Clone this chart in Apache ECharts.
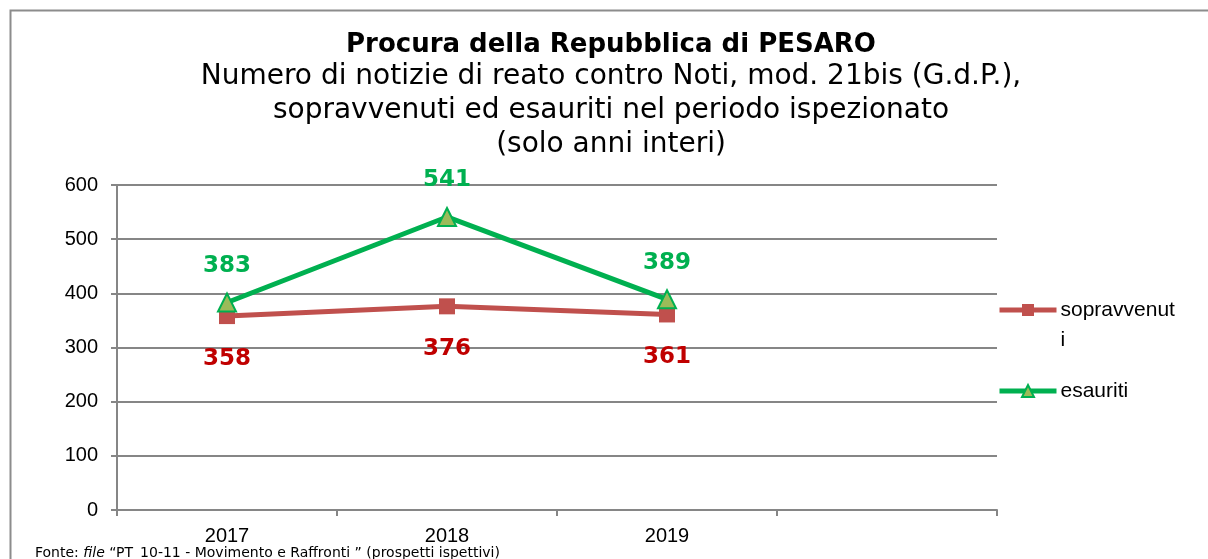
<!DOCTYPE html>
<html>
<head>
<meta charset="utf-8">
<script src="https://cdn.jsdelivr.net/npm/echarts@6/dist/echarts.min.js"></script>
<style>
  html, body { margin: 0; padding: 0; background: #fff; }
  #chart { width: 1208px; height: 559px; }
</style>
</head>
<body>
<div id="chart"></div>
<script>
const anni = ['2017', '2018', '2019', '']
const sopravvenuti = [358, 376, 361, null]
const esauriti = [383, 541, 389, null]
const yTicks = [0, 100, 200, 300, 400, 500, 600]

const option = {
  animation: false,
  title: {
    text: 'Procura della Repubblica di PESARO',
    subtext: 'Numero di notizie di reato contro Noti, mod. 21bis (G.d.P.),\nsopravvenuti ed esauriti nel periodo ispezionato\n(solo anni interi)',
    left: 606,
    textAlign: 'center',
    top: 27,
    itemGap: 2,
    textStyle: {
      fontFamily: 'DejaVu Sans',
      fontWeight: 'bold',
      fontSize: 26,
      color: '#000',
    },
    subtextStyle: {
      fontFamily: 'DejaVu Sans',
      fontSize: 28,
      lineHeight: 34,
      color: '#000',
    },
  },
  legend: {
    orient: 'vertical',
    left: 992,
    top: 260,
    itemWidth: 57,
    itemHeight: 15,
    itemGap: 21,
    lineStyle: { width: 5 },
    // prima riga vuota: così "sopravvenut" resta all'altezza dell'icona
    formatter: function (name) {
      return name === 'sopravvenuti' ? ' \nsopravvenut\ni' : name
    },
    textStyle: {
      fontFamily: 'Liberation Sans',
      fontSize: 21,
      lineHeight: 30,
      color: '#000',
      padding: [0, 0, 0, -1],
    },
    data: ['sopravvenuti', 'esauriti'],
  },
  grid: {
    left: 117,
    right: 211,
    top: 185,
    bottom: 49,
  },
  xAxis: {
    type: 'category',
    data: anni,
    boundaryGap: true,
    axisLine: { lineStyle: { color: '#868686', width: 2 } },
    axisTick: { show: true, length: 6, lineStyle: { color: '#868686', width: 2 } },
    axisLabel: {
      fontFamily: 'Liberation Sans',
      fontSize: 20,
      color: '#000',
      margin: 16,
    },
  },
  yAxis: {
    type: 'value',
    min: 0,
    max: 600,
    interval: 100,
    axisLine: { show: true, lineStyle: { color: '#868686', width: 2 } },
    axisTick: { show: true, length: 6, lineStyle: { color: '#868686', width: 2 } },
    splitLine: { lineStyle: { color: '#868686', width: 2 } },
    axisLabel: {
      fontFamily: 'Liberation Sans',
      fontSize: 20,
      color: '#000',
      margin: 19,
      formatter: function (v) {
        return yTicks.indexOf(v) >= 0 ? String(v) : ''
      },
    },
  },
  series: [
    {
      name: 'sopravvenuti',
      type: 'line',
      data: sopravvenuti,
      symbol: 'rect',
      symbolSize: 16,
      itemStyle: { color: '#C0504D' },
      lineStyle: { color: '#C0504D', width: 5 },
      label: {
        show: true,
        position: 'bottom',
        distance: 23,
        fontFamily: 'DejaVu Sans',
        fontWeight: 'bold',
        fontSize: 23,
        color: '#C00000',
      },
    },
    {
      name: 'esauriti',
      type: 'line',
      data: esauriti,
      symbol: 'triangle',
      symbolSize: 18,
      itemStyle: { color: '#9BBB59', borderColor: '#00B050', borderWidth: 2 },
      lineStyle: { color: '#00B050', width: 5 },
      label: {
        show: true,
        position: 'top',
        distance: 15,
        fontFamily: 'DejaVu Sans',
        fontWeight: 'bold',
        fontSize: 23,
        color: '#00B050',
      },
    },
  ],
  graphic: [
    {
      type: 'rect',
      shape: { x: 10.5, y: 10.5, width: 1220, height: 600 },
      style: { fill: 'none', stroke: '#8c8c8c', lineWidth: 2 },
      silent: true,
    },
    {
      type: 'text',
      left: 35,
      top: 546,
      style: {
        text: 'Fonte: {i|file} “PT_10-11 - Movimento e Raffronti ” (prospetti ispettivi)',
        fontFamily: 'DejaVu Sans',
        fontSize: 14,
        fill: '#000',
        rich: {
          i: { fontStyle: 'italic', fontFamily: 'DejaVu Sans', fontSize: 14 },
        },
      },
    },
  ],
}

var myChart = echarts.init(document.getElementById('chart'))
myChart.setOption(option)
</script>
</body>
</html>
